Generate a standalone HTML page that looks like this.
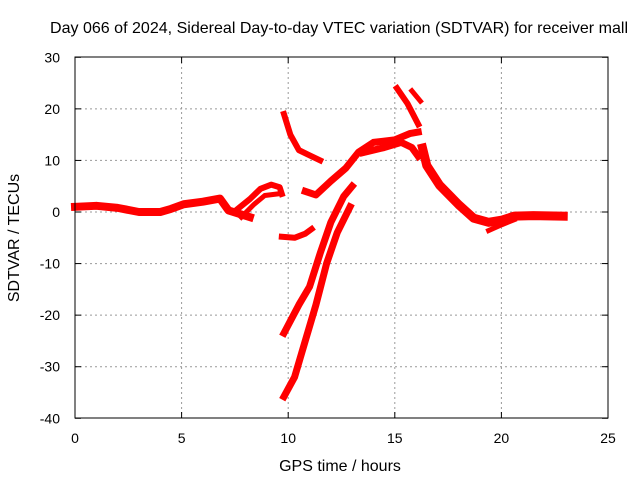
<!DOCTYPE html>
<html><head><meta charset="utf-8"><style>
body{margin:0;background:#fff;}
svg text{font-family:"Liberation Sans",sans-serif;font-size:14px;fill:#000;}
</style></head><body>
<svg width="640" height="480" id="chart">
<rect width="640" height="480" fill="#fff"/>
<text x="50" y="33" textLength="578" lengthAdjust="spacingAndGlyphs" style="font-size:16px">Day 066 of 2024, Sidereal Day-to-day VTEC variation (SDTVAR) for receiver mall</text>
<text x="340" y="471" text-anchor="middle" style="font-size:16px">GPS time / hours</text>
<text transform="translate(19,238) rotate(-90)" text-anchor="middle" style="font-size:16px">SDTVAR / TECUs</text>
<g id="grid"></g><g id="ticks"></g><g id="marks"></g>
<rect x="75" y="57" width="533" height="361" fill="none" stroke="#000" stroke-width="1"/>
</svg>
<script>
const xTicks=[0,5,10,15,20,25];
const yTicks=[30,20,10,0,-10,-20,-30,-40];
const segA=[[0,1],[1,1.2],[2,0.8],[3,0],[4,0],[4.5,0.6],[5.1,1.5],[6,2],[6.8,2.6],[7.2,0.3],[8.2,-1]];
const segB=[[7.6,0.5],[8.2,2.5],[8.7,4.5],[9.2,5.3],[9.6,4.8],[9.7,3.5]];
const segB2=[[7.8,-1],[8.4,1.5],[8.9,3.2],[9.5,3.5]];
const segC=[[9.8,19],[10.1,15],[10.5,12],[11,11],[11.5,10]];
const segD=[[9.7,-4.8],[10.3,-5],[10.8,-4.2],[11.1,-3.3]];
const segE=[[10.8,4],[11.3,3.3],[12,6],[12.7,8.5],[13.3,11.6],[14,13.5],[15,14],[15.7,15.2],[16.1,15.5]];
const segE2=[[13.5,11.5],[14.5,12.5],[15.3,13.5],[15.8,12.5],[16.1,10.8]];
const segF=[[9.8,-23.5],[10.5,-18],[11,-14.5],[11.5,-8],[12,-2],[12.6,3],[13,5]];
const segG=[[9.8,-35.8],[10.3,-32],[10.8,-25],[11.3,-18],[11.8,-10],[12.3,-4],[12.9,1]];
const segH=[[15.1,24],[15.6,21],[16.1,17]];
const segH2=[[15.8,23.5],[16.2,21.5]];
const segI=[[16.3,12.4],[16.5,9],[17.1,5.2],[18,1.4],[18.7,-1.2],[19.4,-2],[20,-1.6],[20.6,-0.8],[21.5,-0.7],[22.9,-0.8]];
const segI2=[[19.4,-3.6],[20,-2.5],[20.6,-1.5]];
const series=[segA,segB,segB2,segC,segD,segE,segE2,segF,segG,segH,segH2,segI,segI2];
const widths=[8,6,5,6,6,7,7,7,7,6,5,9,5];
const X=h=>75+h*533/25, Y=v=>212-v*361/70;
const ns="http://www.w3.org/2000/svg";
const grid=document.getElementById('grid'),ticks=document.getElementById('ticks'),marks=document.getElementById('marks');
function mk(t,a,p){const e=document.createElementNS(ns,t);for(const k in a)e.setAttribute(k,a[k]);p.appendChild(e);return e;}
xTicks.forEach(t=>{const x=X(t);
 if(t>0&&t<25){const g=mk('line',{x1:x,x2:x,y1:57,y2:418,stroke:'#999','stroke-dasharray':'2,3'},grid);
 
 }
 const tx=mk('text',{x:x,y:443,'text-anchor':'middle'},ticks);tx.textContent=t;
 
 
 mk('line',{x1:x,x2:x,y1:418,y2:412,stroke:'#000'},ticks);mk('line',{x1:x,x2:x,y1:57,y2:63,stroke:'#000'},ticks);});
yTicks.forEach(t=>{const y=Y(t);
 if(t<30&&t>-40){const g=mk('line',{x1:75,x2:608,y1:y,y2:y,stroke:'#999','stroke-dasharray':'2,3'},grid);
 
 }
 const tx=mk('text',{x:60,y:y+5,'text-anchor':'end'},ticks);tx.textContent=t;
 
 
 mk('line',{x1:75,x2:81,y1:y,y2:y,stroke:'#000'},ticks);mk('line',{x1:608,x2:602,y1:y,y2:y,stroke:'#000'},ticks);});
series.forEach((s,i)=>{const p=mk('polyline',{points:s.map(d=>X(d[0])+','+Y(d[1])).join(' '),fill:'none',stroke:'#f00','stroke-width':widths[i],'stroke-linejoin':'round','stroke-linecap':'square'},marks);
 
 });
</script>
</body></html>
